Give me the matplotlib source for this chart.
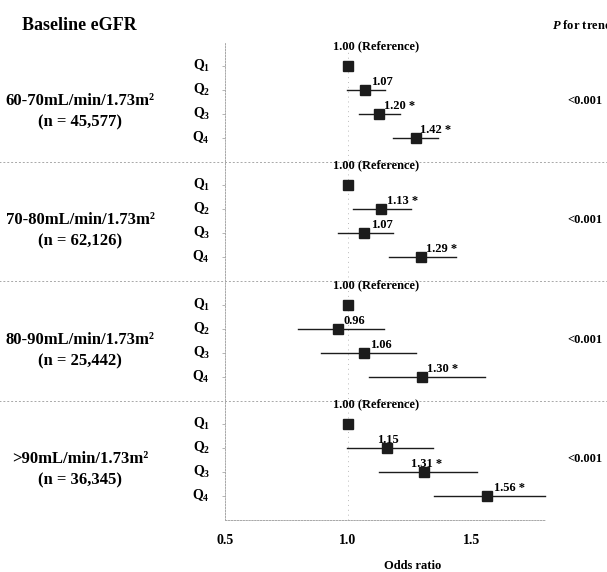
import matplotlib
matplotlib.use('Agg')
import matplotlib.pyplot as plt
import matplotlib.transforms as mtransforms

plt.rcParams['font.family'] = 'Liberation Serif'
plt.rcParams['font.weight'] = 'bold'
plt.rcParams['mathtext.fontset'] = 'custom'
plt.rcParams['mathtext.rm'] = 'Liberation Serif:bold'
plt.rcParams['mathtext.bf'] = 'Liberation Serif:bold'
plt.rcParams['mathtext.it'] = 'Liberation Serif:bold:italic'

# ── Data ────────────────────────────────────────────────────────────────────
GROUPS   = ['60-70mL/min/1.73m\u00b2', '70-80mL/min/1.73m\u00b2',
            '80-90mL/min/1.73m\u00b2', '>90mL/min/1.73m\u00b2']
GROUP_N  = ['(n = 45,577)', '(n = 62,126)', '(n = 25,442)', '(n = 36,345)']
QUARTILES = ['$\\mathbf{Q_1}$', '$\\mathbf{Q_2}$', '$\\mathbf{Q_3}$', '$\\mathbf{Q_4}$']
P_TREND  = ['<0.001', '<0.001', '<0.001', '<0.001']

# marker positions as drawn in the figure
OR_POINT = [[1.00, 1.069, 1.125, 1.275],
            [1.00, 1.134, 1.065, 1.296],
            [1.00, 0.960, 1.065, 1.300],
            [1.00, 1.158, 1.308, 1.563]]
CI_LOW   = [[None, 0.996, 1.045, 1.182],
            [None, 1.020, 0.960, 1.166],
            [None, 0.798, 0.890, 1.085],
            [None, 0.996, 1.126, 1.348]]
CI_HIGH  = [[None, 1.150, 1.210, 1.364],
            [None, 1.255, 1.182, 1.440],
            [None, 1.146, 1.275, 1.555],
            [None, 1.344, 1.522, 1.802]]
OR_TEXT  = [['1.07', '1.20 *', '1.42 *'],
            ['1.13 *', '1.07', '1.29 *'],
            ['0.96', '1.06', '1.30 *'],
            ['1.15', '1.31 *', '1.56 *']]

XTICKS = [0.5, 1.0, 1.5]

# label x-offsets in points (a couple of labels sit over the marker)
LABEL_DX = [[4, 4, 3],
            [4, 5, 4],
            [4, 4, 4],
            [-7, -9, 5]]

GRID_GRAY = '#a8a8a8'
MARK = '#1c1c1c'

fig = plt.figure(figsize=(6.07, 5.72), dpi=100)
W, H = 607, 572
ax = fig.add_axes([225 / W, 1 - 520 / H, 320 / W, 478 / H])
ax.set_xlim(0.5, 1.8)
ax.set_ylim(19, -1)

for spine in ['top', 'right']:
    ax.spines[spine].set_visible(False)
for spine in ['left', 'bottom']:
    ax.spines[spine].set_color(GRID_GRAY)
    ax.spines[spine].set_linestyle((0, (1.5, 1.5)))
    ax.spines[spine].set_linewidth(0.7)

rows = [g * 5 + q for g in range(4) for q in range(4)]
ax.set_yticks(rows)
ax.set_yticklabels([])
ax.tick_params(axis='y', length=2.5, color=GRID_GRAY, width=0.6)
ax.set_xticks(XTICKS)
ax.set_xticklabels([f'{t:.1f}' for t in XTICKS], fontsize=10, fontweight='bold')
ax.tick_params(axis='x', length=0, pad=10)

ax.axvline(1.0, color='#bbbbbb', linestyle=(0, (1, 4)), linewidth=0.7, zorder=0)

trans_lab = mtransforms.blended_transform_factory(ax.transAxes, ax.transData)

for g in range(4):
    base = g * 5
    for q in range(4):
        y = base + q
        ax.text(-0.047, y, QUARTILES[q], transform=trans_lab,
                ha='right', va='center', fontsize=10)
        if CI_LOW[g][q] is not None:
            ax.plot([CI_LOW[g][q], CI_HIGH[g][q]], [y, y],
                    color=MARK, linewidth=1.0, zorder=2, clip_on=False)
        ax.plot(OR_POINT[g][q], y, marker='s', markersize=6.5,
                color=MARK, zorder=3, clip_on=False)
        if q > 0:
            ax.annotate(OR_TEXT[g][q - 1], (OR_POINT[g][q], y),
                        xytext=(LABEL_DX[g][q - 1], 1.5),
                        textcoords='offset points',
                        ha='left', va='bottom', fontsize=9)
    ax.annotate('1.00 (Reference)', (1.0, base),
                xytext=(-11, 10), textcoords='offset points',
                ha='left', va='bottom', fontsize=9)

    ax.text(-0.453, base + 1.9, GROUPS[g] + '\n' + GROUP_N[g],
            transform=trans_lab, ha='center', va='center',
            fontsize=12, linespacing=1.45)
    ax.text(1.069, base + 1.45, P_TREND[g], transform=trans_lab,
            ha='left', va='center', fontsize=9)

    if g > 0:
        ax.axhline(base - 1, xmin=-0.71, xmax=1.2, color=GRID_GRAY,
                   linestyle=(0, (2, 2)), linewidth=0.7, clip_on=False)

ax.text(-0.634, -1.67, 'Baseline eGFR', transform=trans_lab,
        ha='left', va='center', fontsize=13)
# the reference figure is cropped through this header at the right edge
ax.text(1.022, -1.67, '$\\mathit{P}$ for trend', transform=trans_lab,
        ha='left', va='center', fontsize=9)

fig.text(413 / W, 1 - 566 / H, 'Odds ratio', ha='center', va='center',
         fontsize=9)

fig.savefig('out.png', dpi=100)
